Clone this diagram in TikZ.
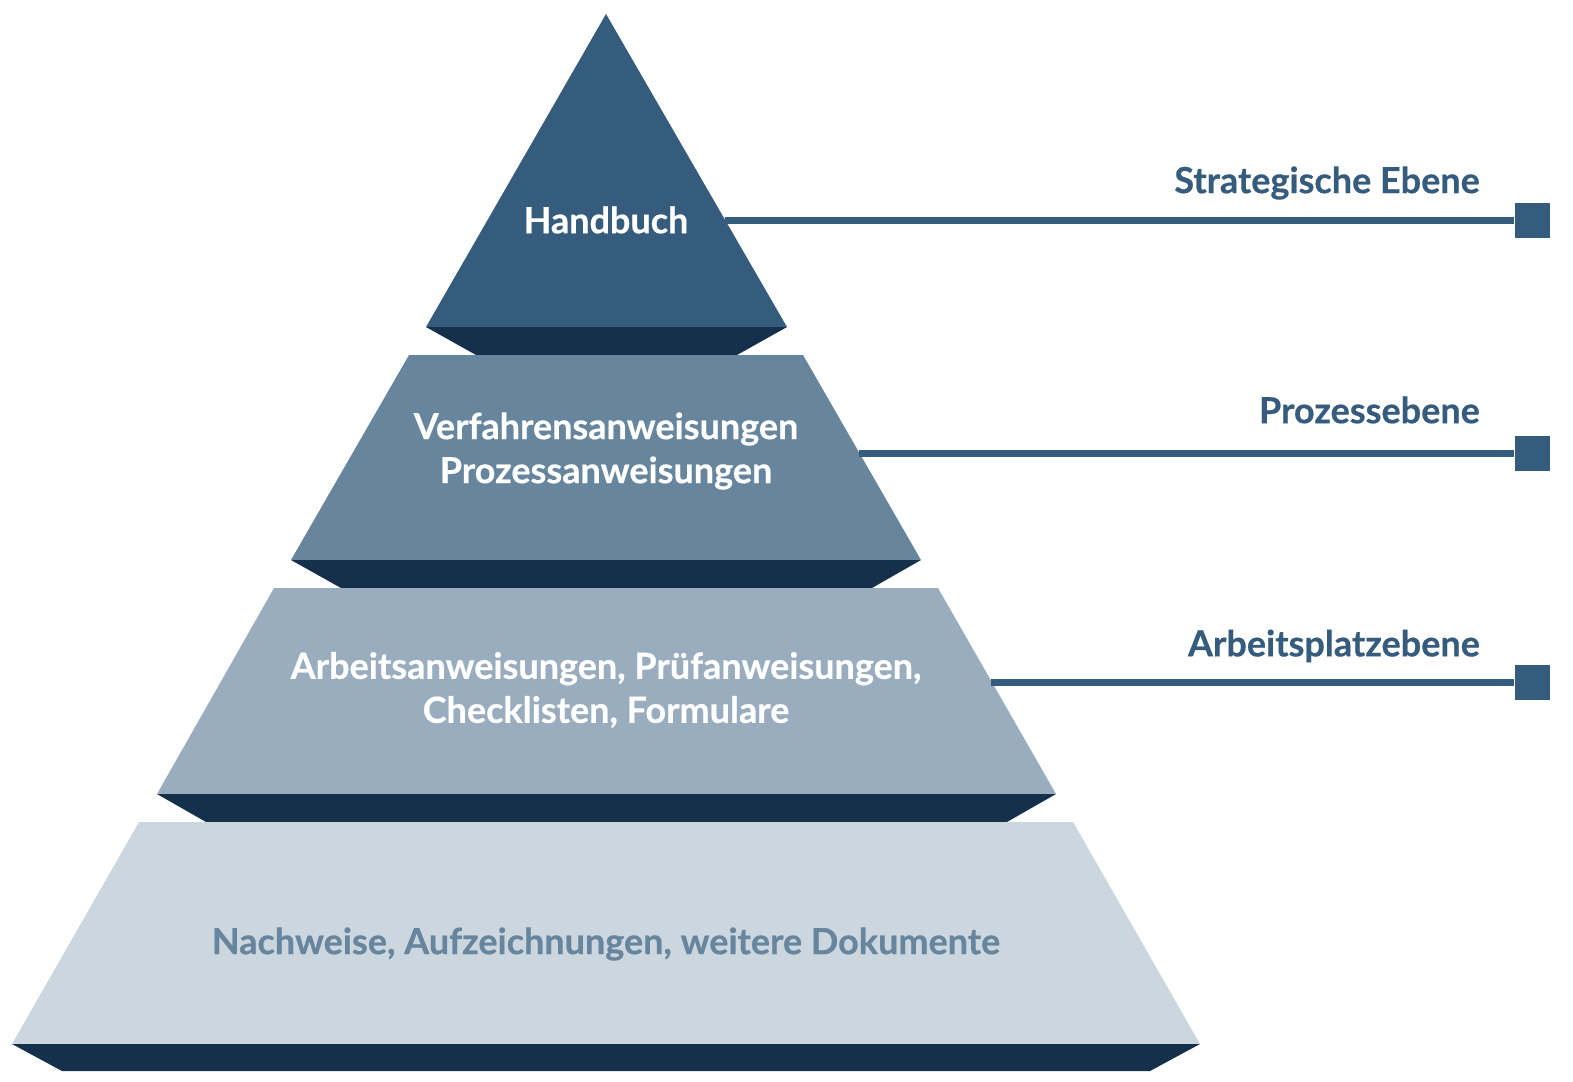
\documentclass[tikz,border=0pt]{standalone}
\usepackage{fontspec}
\setmainfont{Lato}[BoldFont={* Bold},BoldFeatures={FakeBold=0.5}]
\definecolor{cTop}{HTML}{365C7D}
\definecolor{cTwo}{HTML}{67869E}
\definecolor{cThree}{HTML}{9AADBE}
\definecolor{cFour}{HTML}{CBD6DF}
\definecolor{cBand}{HTML}{15304A}
\tikzset{
  band/.style={fill=cBand},
  tiertext/.style={text=white,font=\fontsize{36bp}{44bp}\selectfont\bfseries,align=center,inner sep=0pt},
  sidelabel/.style={text=cTop,font=\fontsize{36bp}{44bp}\selectfont\bfseries,anchor=east,inner sep=0pt},
  connector/.style={draw=cTop,line width=7bp},
  endsquare/.style={fill=cTop,minimum size=35bp,inner sep=0pt,draw=none},
}
\begin{document}
\begin{tikzpicture}[x=1bp,y=-1bp]
\useasboundingbox (0,0) rectangle (1573,1081);
% tier 1
\fill[cTop] (606,14) -- (787,327) -- (426,327) -- cycle;
\fill[band] (426,327) -- (787,327) -- (737,355) -- (476,355) -- cycle;
% tier 2
\fill[cTwo] (409,355) -- (803,355) -- (921,560) -- (291,560) -- cycle;
\fill[band] (291,560) -- (921,560) -- (872,588) -- (341,588) -- cycle;
% tier 3
\fill[cThree] (274,588) -- (938,588) -- (1056,794) -- (157,794) -- cycle;
\fill[band] (157,794) -- (1056,794) -- (1007,822) -- (206,822) -- cycle;
% tier 4
\fill[cFour] (139,822) -- (1073,822) -- (1200,1044) -- (12,1044) -- cycle;
\fill[band] (12,1044) -- (1200,1044) -- (1150,1071) -- (62,1071) -- cycle;
% texts
\node[tiertext] (t1) at (606,220) {Handbuch};
\node[tiertext] (t2) at (606,451) {Verfahrensanweisungen\\Prozessanweisungen};
\node[tiertext] (t3) at (606,690) {Arbeitsanweisungen, Prüfanweisungen,\\Checklisten, Formulare};
\node[tiertext,text=cTwo] (t4) at (606,944) {Nachweise, Aufzeichnungen, weitere Dokumente};
% connectors
\coordinate (e1) at (725,220);
\coordinate (e2) at (859,453);
\coordinate (e3) at (991,682);
\node[endsquare] (s1) at (1532,220) {};
\node[endsquare] (s2) at (1532,453) {};
\node[endsquare] (s3) at (1532,682) {};
\draw[connector] (e1) -- (s1.west);
\draw[connector] (e2) -- (s2.west);
\draw[connector] (e3) -- (s3.west);
\node[sidelabel] (l1) at (1480,183) {Strategische Ebene};
\node[sidelabel] (l2) at (1480,410) {Prozessebene};
\node[sidelabel] (l3) at (1480,646) {Arbeitsplatzebene};
\end{tikzpicture}
\end{document}
